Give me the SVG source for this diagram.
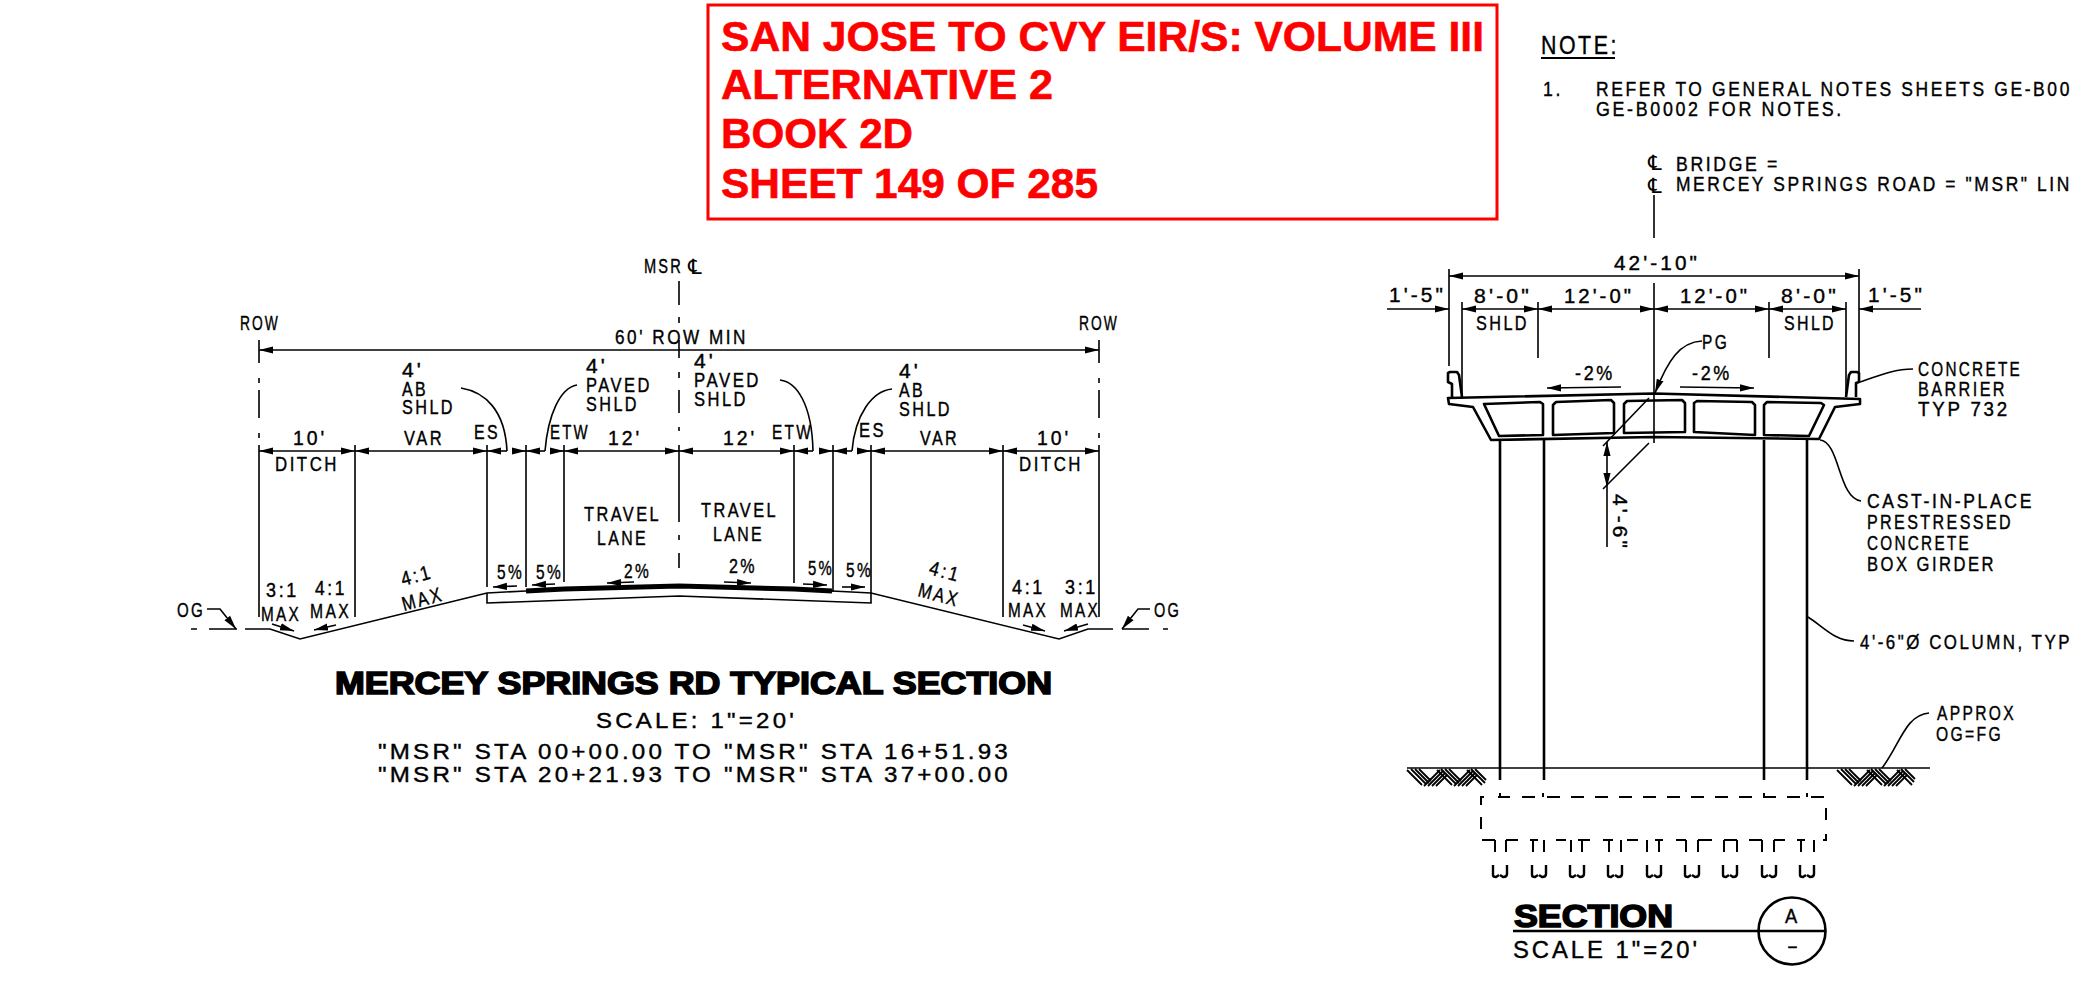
<svg xmlns="http://www.w3.org/2000/svg" width="2074" height="985" viewBox="0 0 2074 985">
<style>
text{font-family:"Liberation Sans",Arial,sans-serif;fill:#000;font-size:20px;letter-spacing:3px;stroke:#000;stroke-width:.4px}
.s{font-size:22.500px}
.n{font-size:25px}
.h{font-weight:bold;stroke-width:1.600px;letter-spacing:0}
.r{font-weight:bold;font-size:43px;fill:#f00;stroke:#f00;stroke-width:.6px;letter-spacing:0}
.c{font-family:"DejaVu Sans",sans-serif;font-size:21px;stroke-width:0;letter-spacing:0}
path,line,circle,rect{fill:none;stroke:#000;stroke-width:1.6}
.d{marker-start:url(#a);marker-end:url(#a)}
.ds{marker-start:url(#a)}
.de{marker-end:url(#a)}
.m{stroke-width:2.6;stroke-linejoin:round}
.th{stroke-width:2}
</style>
<defs>
<marker id="a" markerUnits="userSpaceOnUse" markerWidth="16" markerHeight="10" refX="14" refY="5" orient="auto-start-reverse"><path d="M0 1.400L14 5L0 8.600Z" style="fill:#000;stroke:none"/></marker>
<path id="hv" style="stroke-width:1.800" d="M0 2L15 17M4 1L19 16M8 1L22 15M12 1L24 13M17 18L33 2M21 18L36 3M25 18L38 5M29 18L40 7"/>
<path id="pb" style="stroke-width:2.400" d="M-7 0V10Q-7 12-4 12L-1 10M7 0V9Q7 12 3 12L0 10"/>
</defs>

<g id="title-box">
<rect x="708" y="5" width="789" height="214" style="stroke:#f00;stroke-width:3"/>
<text class="r" x="721" y="51" textLength="763" lengthAdjust="spacingAndGlyphs">SAN JOSE TO CVY EIR/S: VOLUME III</text>
<text class="r" x="721" y="99" textLength="332" lengthAdjust="spacingAndGlyphs">ALTERNATIVE 2</text>
<text class="r" x="721" y="148" textLength="192" lengthAdjust="spacingAndGlyphs">BOOK 2D</text>
<text class="r" x="721" y="198" textLength="377" lengthAdjust="spacingAndGlyphs">SHEET 149 OF 285</text>
</g>

<g id="note">
<text class="n" x="1541" y="54" textLength="78" lengthAdjust="spacingAndGlyphs">NOTE:</text>
<line x1="1541" y1="58" x2="1615" y2="58" class="th"/>
<text x="1543" y="96" textLength="20" lengthAdjust="spacingAndGlyphs">1.</text>
<text x="1596" y="96" textLength="476" lengthAdjust="spacingAndGlyphs">REFER TO GENERAL NOTES SHEETS GE-B00</text>
<text x="1596" y="116" textLength="248" lengthAdjust="spacingAndGlyphs">GE-B0002 FOR NOTES.</text>
</g>

<g id="typical-section-lines">
<path d="M259 340V363M259 378V383M259 390V418M259 433V438M259 445V617"/>
<path d="M1099 340V363M1099 378V383M1099 390V418M1099 433V438M1099 445V617"/>
<path d="M679 281V305M679 317V323M679 340V358M679 372V378M679 390V413M679 427V431M679 445V522M679 535V540M679 553V568"/>
<path d="M355 445V617M487 445V587M526 445V587M564 445V582M794 445V583M833 445V592M871 445V593M1003 445V617"/>
<path d="M191 629H197M209 629H237M245 629H270L300 639L487 593L526 591M832 591L871 593L1059 639L1088 629H1113M1122 629H1149M1163 629H1168" />
<path d="M487 593V603L679 596L871 603V593"/>
<path d="M526 591L564 589L679 586L794 589L832 591" style="stroke-width:5"/>
</g>

<g id="typical-section-dimensions">
<path class="d" d="M259 350H1099"/>
<path class="d" d="M259 451H355"/>
<path class="d" d="M355 451H487"/>
<path class="ds" d="M487 451H507"/>
<path class="de" d="M513 451H526"/>
<path class="ds" d="M526 451H545"/>
<path class="de" d="M550 451H564"/>
<path class="d" d="M564 451H679"/>
<path class="d" d="M679 451H794"/>
<path class="ds" d="M794 451H813"/>
<path class="de" d="M819 451H833"/>
<path class="ds" d="M833 451H852"/>
<path class="de" d="M857 451H871"/>
<path class="d" d="M871 451H1003"/>
<path class="d" d="M1003 451H1099"/>
<path d="M461 388C485 392 505 410 507 451"/>
<path d="M577 385C560 388 548 415 545 451"/>
<path d="M780 380C797 382 812 405 813 451"/>
<path d="M892 389C872 391 855 415 852 451"/>
<path class="de" d="M272 624L294 631"/>
<path class="de" d="M336 625L314 630"/>
<path class="de" d="M517 586L493 587"/>
<path class="de" d="M555 584L532 585"/>
<path class="de" d="M634 582L607 583"/>
<path class="de" d="M724 582L751 583"/>
<path class="de" d="M803 584L827 585"/>
<path class="de" d="M842 587L865 587"/>
<path class="de" d="M1023 625L1045 631"/>
<path class="de" d="M1088 624L1064 631"/>
<path class="de" d="M207 609H220L236 629"/>
<path class="de" d="M1150 609H1138L1122 629"/>
</g>

<g id="typical-section-labels">
<text x="644" y="273" textLength="39" lengthAdjust="spacingAndGlyphs">MSR</text>
<text class="c" x="688" y="274">℄</text>
<text x="240" y="330" textLength="40" lengthAdjust="spacingAndGlyphs">ROW</text>
<text x="1079" y="330" textLength="40" lengthAdjust="spacingAndGlyphs">ROW</text>
<text x="615" y="344" textLength="133" lengthAdjust="spacingAndGlyphs">60' ROW MIN</text>
<text x="402" y="377" textLength="22" lengthAdjust="spacingAndGlyphs">4'</text>
<text x="402" y="396" textLength="26" lengthAdjust="spacingAndGlyphs">AB</text>
<text x="402" y="414" textLength="53" lengthAdjust="spacingAndGlyphs">SHLD</text>
<text x="586" y="373" textLength="22" lengthAdjust="spacingAndGlyphs">4'</text>
<text x="586" y="392" textLength="66" lengthAdjust="spacingAndGlyphs">PAVED</text>
<text x="586" y="411" textLength="53" lengthAdjust="spacingAndGlyphs">SHLD</text>
<text x="694" y="368" textLength="22" lengthAdjust="spacingAndGlyphs">4'</text>
<text x="694" y="387" textLength="67" lengthAdjust="spacingAndGlyphs">PAVED</text>
<text x="694" y="406" textLength="54" lengthAdjust="spacingAndGlyphs">SHLD</text>
<text x="899" y="378" textLength="22" lengthAdjust="spacingAndGlyphs">4'</text>
<text x="899" y="397" textLength="26" lengthAdjust="spacingAndGlyphs">AB</text>
<text x="899" y="416" textLength="53" lengthAdjust="spacingAndGlyphs">SHLD</text>
<text x="293" y="445" textLength="34" lengthAdjust="spacingAndGlyphs">10'</text>
<text x="275" y="471" textLength="64" lengthAdjust="spacingAndGlyphs">DITCH</text>
<text x="404" y="445" textLength="40" lengthAdjust="spacingAndGlyphs">VAR</text>
<text x="474" y="439" textLength="26" lengthAdjust="spacingAndGlyphs">ES</text>
<text x="550" y="439" textLength="40" lengthAdjust="spacingAndGlyphs">ETW</text>
<text x="608" y="445" textLength="34" lengthAdjust="spacingAndGlyphs">12'</text>
<text x="723" y="445" textLength="34" lengthAdjust="spacingAndGlyphs">12'</text>
<text x="772" y="439" textLength="41" lengthAdjust="spacingAndGlyphs">ETW</text>
<text x="859" y="437" textLength="27" lengthAdjust="spacingAndGlyphs">ES</text>
<text x="920" y="445" textLength="39" lengthAdjust="spacingAndGlyphs">VAR</text>
<text x="1037" y="445" textLength="34" lengthAdjust="spacingAndGlyphs">10'</text>
<text x="1019" y="471" textLength="64" lengthAdjust="spacingAndGlyphs">DITCH</text>
<text x="584" y="521" textLength="77" lengthAdjust="spacingAndGlyphs">TRAVEL</text>
<text x="597" y="545" textLength="51" lengthAdjust="spacingAndGlyphs">LANE</text>
<text x="701" y="517" textLength="77" lengthAdjust="spacingAndGlyphs">TRAVEL</text>
<text x="713" y="541" textLength="51" lengthAdjust="spacingAndGlyphs">LANE</text>
<text x="266" y="597" textLength="33" lengthAdjust="spacingAndGlyphs">3:1</text>
<text x="261" y="621" textLength="40" lengthAdjust="spacingAndGlyphs">MAX</text>
<text x="315" y="595" textLength="32" lengthAdjust="spacingAndGlyphs">4:1</text>
<text x="310" y="618" textLength="41" lengthAdjust="spacingAndGlyphs">MAX</text>
<text transform="translate(403,586) rotate(-15)" textLength="32" lengthAdjust="spacingAndGlyphs">4:1</text>
<text transform="translate(404,611) rotate(-15)" textLength="42" lengthAdjust="spacingAndGlyphs">MAX</text>
<text x="497" y="579" textLength="27" lengthAdjust="spacingAndGlyphs">5%</text>
<text x="536" y="579" textLength="27" lengthAdjust="spacingAndGlyphs">5%</text>
<text x="624" y="578" textLength="27" lengthAdjust="spacingAndGlyphs">2%</text>
<text x="729" y="573" textLength="28" lengthAdjust="spacingAndGlyphs">2%</text>
<text x="808" y="575" textLength="26" lengthAdjust="spacingAndGlyphs">5%</text>
<text x="846" y="577" textLength="27" lengthAdjust="spacingAndGlyphs">5%</text>
<text transform="translate(928,574) rotate(15)" textLength="32" lengthAdjust="spacingAndGlyphs">4:1</text>
<text transform="translate(917,596) rotate(15)" textLength="42" lengthAdjust="spacingAndGlyphs">MAX</text>
<text x="1012" y="594" textLength="33" lengthAdjust="spacingAndGlyphs">4:1</text>
<text x="1008" y="617" textLength="40" lengthAdjust="spacingAndGlyphs">MAX</text>
<text x="1065" y="594" textLength="33" lengthAdjust="spacingAndGlyphs">3:1</text>
<text x="1060" y="617" textLength="40" lengthAdjust="spacingAndGlyphs">MAX</text>
<text x="177" y="617" textLength="28" lengthAdjust="spacingAndGlyphs">OG</text>
<text x="1154" y="617" textLength="27" lengthAdjust="spacingAndGlyphs">OG</text>
<text class="h" x="335" y="694" textLength="717" lengthAdjust="spacingAndGlyphs" style="font-size:31px">MERCEY SPRINGS RD TYPICAL SECTION</text>
<text class="s" x="596" y="728" textLength="201" lengthAdjust="spacingAndGlyphs">SCALE: 1"=20'</text>
<text class="s" x="378" y="759" textLength="633" lengthAdjust="spacingAndGlyphs">"MSR" STA 00+00.00 TO "MSR" STA 16+51.93</text>
<text class="s" x="378" y="782" textLength="633" lengthAdjust="spacingAndGlyphs">"MSR" STA 20+21.93 TO "MSR" STA 37+00.00</text>
</g>

<g id="bridge-section-lines">
<path d="M1654 195V238M1654 283V443"/>
<path d="M1449 269V366M1859 269V372M1462 302V397M1846 302V397M1538 302V358M1769 302V358"/>
<path class="m" d="M1448 398L1654 393.500L1860 399V404L1835 407L1819 439L1654 437L1491 440L1473 407L1449 404Z"/>
<path class="m" d="M1452 397V384L1448 382V373L1450 372H1457L1459 375L1462 397"/>
<path class="m" d="M1856 397V383L1859 382V373L1857 372H1851L1849 375L1846 397"/>
<path class="m" d="M1484 404L1540 402L1543 404V435L1499 436Z"/>
<path class="m" d="M1553 405L1556 402L1611 400L1614 403V433L1553 435Z"/>
<path class="m" d="M1624 404L1627 401L1682 400L1685 403V432L1624 433Z"/>
<path class="m" d="M1694 403L1697 401L1752 402L1755 405V435L1694 432Z"/>
<path class="m" d="M1764 405L1767 402L1821 403L1824 405L1809 436L1764 435Z"/>
<path class="m" d="M1500 440V780M1544 440V780M1764 440V780M1807 440V780"/>
<line x1="1407" y1="768" x2="1930" y2="768"/>
<use href="#hv" x="1407" y="768"/><use href="#hv" x="1437" y="768"/><path style="stroke-width:1.800" d="M1467 770L1482 785M1471 769L1485 783M1475 769L1486 780"/>
<use href="#hv" x="1837" y="768"/><use href="#hv" x="1867" y="768"/><path style="stroke-width:1.800" d="M1897 770L1912 785M1901 769L1914 782M1905 769L1915 779"/>
<path class="th" d="M1498 797H1510M1500 793V797M1522 797H1535M1543 793V797M1764 793V797M1807 793V797"/>
<path class="th" d="M1547 797H1826" stroke-dasharray="13 11"/>
<path class="th" d="M1484 797H1481V805M1481 817V829M1826 808V820M1826 834V840H1823"/>
<path class="th" d="M1495 840V852M1506 840V852M1533 840V852M1544 840V852M1571 840V852M1582 840V852M1609 840V852M1621 840V852M1647 840V852M1659 840V852M1686 840V852M1698 840V852M1724 840V852M1737 840V852M1762 840V852M1774 840V852M1801 840V852M1814 840V852"/>
<path class="th" d="M1482 840H1495M1506 840H1518M1530 840H1538M1556 840H1566M1578 840H1590M1603 840H1613M1627 840H1638M1655 840H1663M1676 840H1686M1698 840H1712M1724 840H1737M1749 840H1762M1774 840H1785M1797 840H1805"/>
<use href="#pb" x="1500" y="865"/><use href="#pb" x="1539" y="865"/><use href="#pb" x="1577" y="865"/><use href="#pb" x="1615" y="865"/><use href="#pb" x="1654" y="865"/><use href="#pb" x="1692" y="865"/><use href="#pb" x="1730" y="865"/><use href="#pb" x="1769" y="865"/><use href="#pb" x="1807" y="865"/>
<line x1="1513" y1="931" x2="1825" y2="931" class="m"/>
<circle cx="1792" cy="931" r="33.500" class="m"/>
</g>

<g id="bridge-section-dimensions">
<path class="d" d="M1449 276H1859"/>
<path class="de" d="M1387 309H1449"/>
<path class="de" d="M1921 309H1859"/>
<path class="d" d="M1462 309H1538"/>
<path class="d" d="M1538 309H1654"/>
<path class="d" d="M1654 309H1769"/>
<path class="d" d="M1769 309H1846"/>
<path class="de" d="M1702 341C1680 342 1668 360 1655 393"/>
<path class="de" d="M1621 387L1547 388"/>
<path class="de" d="M1680 387L1754 388"/>
<path d="M1649 398L1603 446M1649 443L1603 489"/>
<path d="M1607 547V487"/>
<path class="d" d="M1607 442V487"/>
<path d="M1860 382C1880 375 1895 369 1913 369"/>
<path d="M1820 440C1840 442 1838 498 1861 501"/>
<path d="M1808 617C1825 628 1835 641 1854 641"/>
<path d="M1882 768C1900 745 1905 715 1929 713"/>
</g>

<g id="bridge-section-labels">
<text class="c" x="1648" y="170">℄</text>
<text class="c" x="1648" y="193">℄</text>
<text x="1676" y="171" textLength="104" lengthAdjust="spacingAndGlyphs">BRIDGE =</text>
<text x="1676" y="191" textLength="396" lengthAdjust="spacingAndGlyphs">MERCEY SPRINGS ROAD = "MSR" LIN</text>
<text x="1614" y="270" textLength="86" lengthAdjust="spacingAndGlyphs">42'-10"</text>
<text x="1389" y="302" textLength="57" lengthAdjust="spacingAndGlyphs">1'-5"</text>
<text x="1868" y="302" textLength="57" lengthAdjust="spacingAndGlyphs">1'-5"</text>
<text x="1474" y="303" textLength="58" lengthAdjust="spacingAndGlyphs">8'-0"</text>
<text x="1564" y="303" textLength="70" lengthAdjust="spacingAndGlyphs">12'-0"</text>
<text x="1680" y="303" textLength="70" lengthAdjust="spacingAndGlyphs">12'-0"</text>
<text x="1781" y="303" textLength="58" lengthAdjust="spacingAndGlyphs">8'-0"</text>
<text x="1476" y="330" textLength="53" lengthAdjust="spacingAndGlyphs">SHLD</text>
<text x="1784" y="330" textLength="52" lengthAdjust="spacingAndGlyphs">SHLD</text>
<text x="1702" y="349" textLength="27" lengthAdjust="spacingAndGlyphs">PG</text>
<text x="1575" y="380" textLength="40" lengthAdjust="spacingAndGlyphs">-2%</text>
<text x="1692" y="380" textLength="40" lengthAdjust="spacingAndGlyphs">-2%</text>
<text transform="translate(1613,494) rotate(90)" textLength="57" lengthAdjust="spacingAndGlyphs">4'-6"</text>
<text x="1918" y="376" textLength="104" lengthAdjust="spacingAndGlyphs">CONCRETE</text>
<text x="1918" y="396" textLength="89" lengthAdjust="spacingAndGlyphs">BARRIER</text>
<text x="1918" y="416" textLength="92" lengthAdjust="spacingAndGlyphs">TYP 732</text>
<text x="1867" y="508" textLength="167" lengthAdjust="spacingAndGlyphs">CAST-IN-PLACE</text>
<text x="1867" y="529" textLength="146" lengthAdjust="spacingAndGlyphs">PRESTRESSED</text>
<text x="1867" y="550" textLength="104" lengthAdjust="spacingAndGlyphs">CONCRETE</text>
<text x="1867" y="571" textLength="129" lengthAdjust="spacingAndGlyphs">BOX GIRDER</text>
<text x="1860" y="649" textLength="212" lengthAdjust="spacingAndGlyphs">4'-6"Ø COLUMN, TYP</text>
<text x="1937" y="720" textLength="79" lengthAdjust="spacingAndGlyphs">APPROX</text>
<text x="1936" y="741" textLength="67" lengthAdjust="spacingAndGlyphs">OG=FG</text>
<text class="h" x="1514" y="927" textLength="159" lengthAdjust="spacingAndGlyphs" style="font-size:32px">SECTION</text>
<text class="n" x="1513" y="958" textLength="187" lengthAdjust="spacingAndGlyphs" style="font-size:24px">SCALE 1"=20'</text>
<text x="1785" y="923" textLength="15" lengthAdjust="spacingAndGlyphs">A</text>
<text x="1787" y="953" textLength="11" lengthAdjust="spacingAndGlyphs" style="letter-spacing:0">-</text>
</g>
</svg>
